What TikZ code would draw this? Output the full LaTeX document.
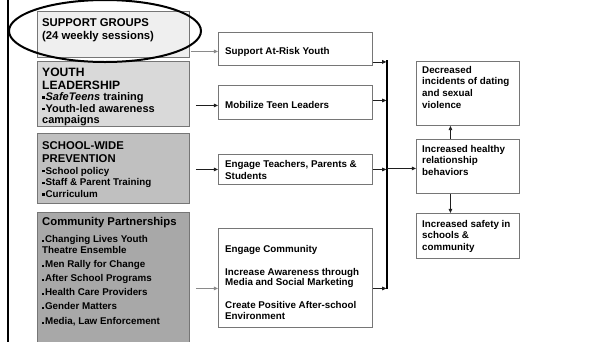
\documentclass[tikz,border=0pt]{standalone}
\usepackage{fontspec}
\setmainfont{Liberation Sans}
\usetikzlibrary{arrows.meta,calc}
\definecolor{edge}{HTML}{767676}
\definecolor{fillA}{HTML}{EFEFEF}
\definecolor{fillB}{HTML}{D9D9D9}
\definecolor{fillC}{HTML}{C0C0C0}
\definecolor{fillD}{HTML}{A8A8A8}
\definecolor{ink}{HTML}{1E1E1E}
\definecolor{lightink}{HTML}{8A8A8A}
% text helpers: size, line distance
\newcommand{\hdfont}[2]{\fontsize{#1}{#2}\selectfont\bfseries}
\newcommand{\smfont}[2]{\fontsize{#1}{#2}\selectfont\bfseries}
\newcommand{\blt}{\rule[1.8pt]{2.6pt}{2.6pt}\hspace{0.8pt}}
\newcommand{\bltsm}{\rule[0.4pt]{2.1pt}{2.1pt}\hspace{0.8pt}}
\newcommand{\txtblock}[1]{\parbox[t]{220pt}{\raggedright #1}}

\begin{document}
\begin{tikzpicture}[x=1pt,y=-1pt,
  box/.style={draw=edge, line width=0.9pt, anchor=north west, inner sep=0pt},
  lbl/.style={anchor=base west, inner sep=0pt, text=black},
  arr/.style={draw=ink, line width=0.8pt, -{Triangle[length=4.2pt,width=3.6pt]}},
]
\useasboundingbox (0,0) rectangle (592,341);

% left-hand program boxes
\node[box, fill=fillA, minimum width=152pt, minimum height=46pt] (g1) at (37,11) {};
\node[box, fill=fillB, minimum width=152pt, minimum height=65pt] (g2) at (37,61) {};
\node[box, fill=fillC, minimum width=152pt, minimum height=70pt] (g3) at (37,133) {};
\node[box, fill=fillD, minimum width=152pt, minimum height=140pt] (g4) at (37,212) {};

\node[lbl] (g1t) at (42,26) {\txtblock{\hdfont{11.3}{13.5}SUPPORT GROUPS\\(24 weekly sessions)}};
\node[lbl] (g2t) at (42,76) {\txtblock{\hdfont{12.1}{13.3}YOUTH\\LEADERSHIP\par
  \smfont{11}{11.4}\blt\textit{SafeTeens} training\\\blt Youth-led awareness\\campaigns}};
\node[lbl] (g3t) at (42,149) {\txtblock{\hdfont{11.3}{13.3}SCHOOL-WIDE\\PREVENTION\par
  \smfont{9.8}{11.8}\blt School policy\\\blt Staff \& Parent Training\\\blt Curriculum}};
\node[lbl] (g4t) at (42,225) {\txtblock{\hdfont{11.3}{13}Community Partnerships\par
  \smfont{9.8}{17}\bltsm Changing Lives Youth\par
  \smfont{9.8}{11}Theatre Ensemble\\[3pt]\bltsm Men Rally for Change\\[3pt]\bltsm After School Programs\\[3pt]\bltsm Health Care Providers\\[3pt]\bltsm Gender Matters\\[4pt]\bltsm Media, Law Enforcement}};

% middle strategy boxes
\node[box, fill=white, minimum width=154pt, minimum height=33pt] (m1) at (218,32) {};
\node[box, fill=white, minimum width=154pt, minimum height=34pt] (m2) at (218,85) {};
\node[box, fill=white, minimum width=154pt, minimum height=30pt] (m3) at (218,154) {};
\node[box, fill=white, minimum width=154pt, minimum height=99pt] (m4) at (218,228) {};

\node[lbl] (m1t) at (225,54) {\txtblock{\smfont{9.8}{11.5}Support At-Risk Youth}};
\node[lbl] (m2t) at (225,108) {\txtblock{\smfont{9.8}{11.5}Mobilize Teen Leaders}};
\node[lbl] (m3t) at (225,167) {\txtblock{\smfont{9.8}{12}Engage Teachers, Parents \&\\Students}};
\node[lbl] (m4t) at (225,252) {\txtblock{\smfont{9.8}{10.8}Engage Community\\[12.2pt]Increase Awareness through\\Media and Social Marketing\\[12.2pt]Create Positive After-school\\Environment}};

% right-hand outcome boxes
\node[box, fill=white, minimum width=103pt, minimum height=64pt] (r1) at (416,61) {};
\node[box, fill=white, minimum width=103pt, minimum height=54pt] (r2) at (416,139) {};
\node[box, fill=white, minimum width=103pt, minimum height=45pt] (r3) at (416,213) {};

\node[lbl] (r1t) at (422,73) {\txtblock{\smfont{9.8}{11.7}Decreased\\incidents of dating\\and sexual\\violence}};
\node[lbl] (r2t) at (422,152) {\txtblock{\smfont{9.8}{11.6}Increased healthy\\relationship\\behaviors}};
\node[lbl] (r3t) at (422,227) {\txtblock{\smfont{9.8}{11.6}Increased safety in\\schools \&\\community}};

% connectors: programs to strategies
\coordinate (a1) at ($(m1.west)+(0,2.5)$);
\coordinate (a2) at ($(m2.west)+(0,3)$);
\coordinate (a3) at (m3.west);
\coordinate (a4) at ($(m4.west)+(0,10.5)$);
\draw[arr, draw=lightink, shorten <=1pt] (a1 -| g1.east) -- (a1);
\draw[arr, shorten <=6pt] (a2 -| g2.east) -- (a2);
\draw[arr, shorten <=6pt] (a3 -| g3.east) -- (a3);
\draw[arr, draw=lightink, shorten <=6pt] (a4 -| g4.east) -- (a4);

% collecting bar
\coordinate (bartop) at (387,60);
\coordinate (barbot) at (387,288.5);
\draw[line width=1.6pt, black] (bartop) -- (barbot);

% strategies to the bar
\coordinate (b1) at ($(m1.south east)+(0,-4)$);
\coordinate (b2) at ($(m2.east)+(0,-2)$);
\coordinate (b4) at ($(m4.east)+(0,10.5)$);
\draw[arr, shorten >=0.6pt] (b1) -- (b1 -| bartop);
\draw[arr, shorten >=0.6pt] (b2) -- (b2 -| bartop);
\draw[arr, shorten >=0.6pt] (m3.east) -- (m3.east -| bartop);
\draw[arr, shorten >=0.6pt] (b4) -- (b4 -| bartop);

% bar to outcomes
\coordinate (c2) at ($(r2.west)+(0,2)$);
\draw[arr] (c2 -| bartop) -- (c2);
\draw[arr] ($(r2.north)+(-17.5,0)$) -- ($(r1.south)+(-17.5,0)$);
\draw[arr] ($(r2.south)+(-17.5,0)$) -- ($(r3.north)+(-17.5,0)$);

% page rule and highlight ring
\draw[line width=2.6pt, black] (8,-2) -- (8,345);
\draw[line width=2pt, black] (105,31) ellipse [x radius=96pt, y radius=31pt];
\end{tikzpicture}
\end{document}
